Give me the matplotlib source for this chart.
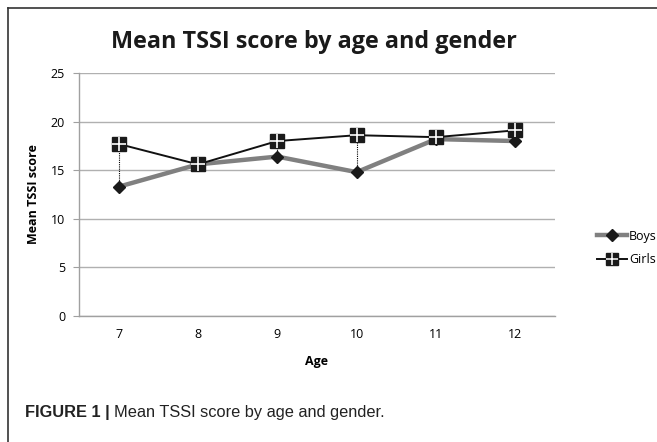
import numpy as np
import matplotlib.pyplot as plt
from matplotlib.lines import Line2D

# data
ages = ['7', '8', '9', '10', '11', '12']
boys = [13.3, 15.6, 16.4, 14.8, 18.2, 18.0]
girls = [17.7, 15.6, 18.0, 18.6, 18.4, 19.1]
y_ticks = [0, 5, 10, 15, 20, 25]

font = 'Open Sans'

fig = plt.figure(figsize=(6.57, 4.42), dpi=100)
ax = fig.add_axes([79 / 657, 1 - 316 / 442, (555 - 79) / 657, (316 - 73) / 442])

x = np.arange(len(ages))

# dotted high-low lines between the two series
ax.vlines(x, boys, girls, colors='black', linestyles=(0, (1, 1)), linewidth=0.8, zorder=2)

ax.plot(x, boys, color='#808080', linewidth=3.2, zorder=3)
ax.plot(x, boys, linestyle='none', marker='D', markersize=6.5, color='#1a1a1a', zorder=4)

ax.plot(x, girls, color='#111111', linewidth=1.4, zorder=3)
ax.plot(x, girls, linestyle='none', marker='s', markersize=10, color='#1a1a1a', zorder=5)
ax.plot(x, girls, linestyle='none', marker='+', markersize=10, markeredgewidth=1.2,
        color='white', zorder=6)

ax.set_xlim(-0.5, len(ages) - 0.5)
ax.set_ylim(0, 25)
ax.set_xticks(x)
ax.set_xticklabels(ages, fontsize=9, family=font)
ax.set_yticks(y_ticks)
ax.set_yticklabels([str(t) for t in y_ticks], fontsize=9, family=font)
ax.tick_params(axis='x', length=0, pad=9)
ax.tick_params(axis='y', length=4, color='#a0a0a0', pad=6)
ax.yaxis.grid(True, color='#b0b0b0', linewidth=1)
ax.set_axisbelow(True)
for s in ['top', 'right']:
    ax.spines[s].set_visible(False)
for s in ['left', 'bottom']:
    ax.spines[s].set_color('#a0a0a0')
    ax.spines[s].set_linewidth(1)

ax.set_xlabel('Age', fontsize=9, fontweight='bold', family=font, labelpad=10)
ax.set_ylabel('Mean TSSI score', fontsize=9, fontweight='bold', family=font, labelpad=8)

fig.text(314 / 657, 1 - 42 / 442, 'Mean TSSI score by age and gender', fontsize=16.8,
         fontweight='bold', family=font, ha='center', va='center', color='#1a1a1a')

# legend
h_boys = Line2D([], [], color='#808080', linewidth=3.2, marker='D', markersize=6,
                markerfacecolor='#1a1a1a', markeredgecolor='#1a1a1a')
h_girls = Line2D([], [], color='#111111', linewidth=1.4, marker='s', markersize=9,
                 markerfacecolor='#1a1a1a', markeredgecolor='#1a1a1a')
h_plus = Line2D([], [], linestyle='none', marker='+', markersize=9, markeredgewidth=1.1,
                color='white')
leg = fig.legend([h_boys, (h_girls, h_plus)], ['Boys', 'Girls'], loc='center left',
                 bbox_to_anchor=(594 / 657, 1 - 248 / 442), frameon=False,
                 prop={'family': font, 'size': 9}, handlelength=2.4, handletextpad=0.2,
                 labelspacing=0.85, borderpad=0.2, borderaxespad=0)

# frame around the chart (left and top edges visible in crop)
fig.add_artist(Line2D([8 / 657, 8 / 657], [0, 1 - 8 / 442], color='#333333', linewidth=1.2))
fig.add_artist(Line2D([8 / 657, 1], [1 - 8 / 442, 1 - 8 / 442], color='#333333', linewidth=1.2))

# caption
cap_font = 'Liberation Sans'
t1 = fig.text(25 / 657, 1 - 412 / 442, 'FIGURE 1 |', fontsize=11.8, fontweight='bold',
              family=cap_font, va='center', color='#222222')
fig.canvas.draw()
bb = t1.get_window_extent()
fig.text((bb.x1 + 4) / 657, 1 - 412 / 442, 'Mean TSSI score by age and gender.', fontsize=11.8,
         family=cap_font, va='center', color='#222222')

fig.savefig('out.png', dpi=100)
